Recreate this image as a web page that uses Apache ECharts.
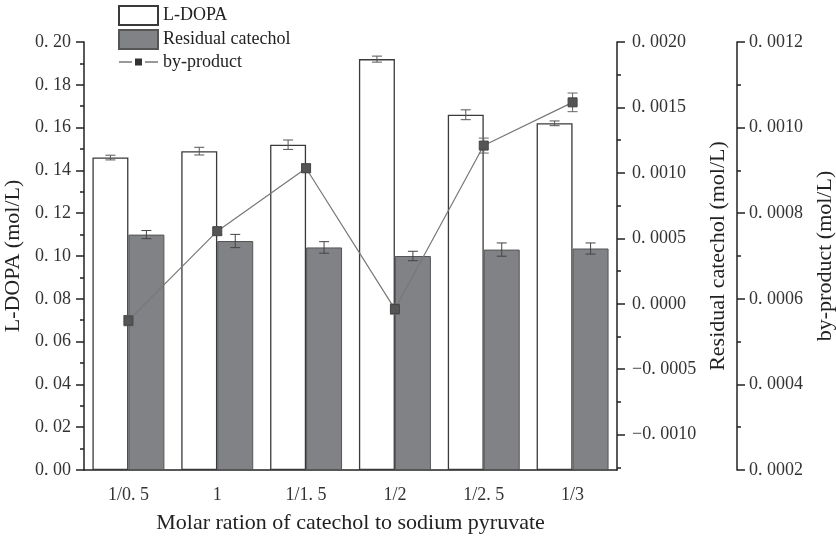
<!DOCTYPE html>
<html>
<head>
<meta charset="utf-8">
<script src="https://cdn.jsdelivr.net/npm/echarts@6/dist/echarts.min.js"></script>
<style>html,body{margin:0;padding:0;background:#fff}#c{width:836px;height:539px}</style>
</head>
<body>
<div id="c"></div>
<script>
const categories = ['1/0.5', '1', '1/1.5', '1/2', '1/2.5', '1/3'];
const ldopa = [0.146, 0.149, 0.152, 0.192, 0.166, 0.162];
const ldopaErr = [0.0011, 0.0018, 0.0022, 0.0014, 0.0023, 0.0011];
const residual = [0.110, 0.107, 0.104, 0.100, 0.103, 0.1035];
const residualErr = [0.0019, 0.0031, 0.0027, 0.0022, 0.0031, 0.0026];
const byproduct = [0.000549, 0.000758, 0.000905, 0.000576, 0.000958, 0.001059];
const byproductErr = [0.000012, 0.000008, 0.00001, 0.000012, 0.0000175, 0.0000218];
const residualAxisTicks = [-0.001, -0.0005, 0, 0.0005, 0.001, 0.0015, 0.002];
const residualAxisMinorTicks = [-0.00125, -0.00075, -0.00025, 0.00025, 0.00075, 0.00125, 0.00175];

const FONT = "'Liberation Serif', 'DejaVu Serif', serif";
const AX = '#222';
const TICK_FS = 18;
const NAME_FS = 22;
function fmt(d) {
  return function (v) {
    return v.toFixed(d).replace('.', '. ').replace('-', '\u2212');
  };
}
function catFmt(v) {
  return String(v).replace('.', '. ');
}
function errRenderer(offsetFrac, color) {
  return function (params, api) {
    const i = api.value(0), v = api.value(1), e = api.value(2);
    const hi = api.coord([i, v + e]);
    const lo = api.coord([i, v - e]);
    const band = api.size([1, 0])[0];
    const x = hi[0] + band * offsetFrac;
    const cap = 5;
    const st = { stroke: color, lineWidth: 1 };
    return {
      type: 'group',
      children: [
        { type: 'line', shape: { x1: x, y1: hi[1], x2: x, y2: lo[1] }, style: st },
        { type: 'line', shape: { x1: x - cap, y1: hi[1], x2: x + cap, y2: hi[1] }, style: st },
        { type: 'line', shape: { x1: x - cap, y1: lo[1], x2: x + cap, y2: lo[1] }, style: st }
      ]
    };
  };
}

const chart = echarts.init(document.getElementById('c'), null, { renderer: 'canvas' });
chart.setOption({
  animation: false,
  backgroundColor: '#fff',
  textStyle: { fontFamily: FONT },
  legend: {
    left: 118, top: 5, orient: 'vertical', padding: 0,
    itemWidth: 39, itemHeight: 19, itemGap: 3,
    textStyle: { fontFamily: FONT, fontSize: 18, color: '#222' },
    data: [
      { name: 'L-DOPA', icon: 'rect' },
      { name: 'Residual catechol', icon: 'rect' },
      {
        name: 'by-product',
        icon: 'path://M0,3 L13,3 L13,4 L0,4 Z M16,0 L23,0 L23,7 L16,7 Z M26,3 L39,3 L39,4 L26,4 Z',
        itemStyle: { color: '#333', borderWidth: 0 }
      }
    ]
  },
  grid: { left: 84, right: 219, top: 42, bottom: 69, containLabel: false, outerBoundsMode: 'none' },
  xAxis: [
    {
      type: 'category', data: categories, position: 'bottom',
      axisLine: { lineStyle: { color: AX, width: 1.5 } },
      axisTick: { alignWithLabel: true, length: 8, lineStyle: { color: AX, width: 1.5 } },
      axisLabel: { fontFamily: FONT, fontSize: TICK_FS, color: '#333', margin: 16, formatter: catFmt },
      name: 'Molar ration of catechol to sodium pyruvate',
      nameLocation: 'middle', nameGap: 42,
      nameTextStyle: { fontFamily: FONT, fontSize: NAME_FS, color: '#222' }
    },
    {
      type: 'category', data: categories, position: 'bottom',
      axisLine: { show: false },
      axisTick: { length: 4, lineStyle: { color: AX, width: 1.5 } },
      axisLabel: { show: false }
    }
  ],
  yAxis: [
    {
      type: 'value', position: 'left', min: 0, max: 0.2, interval: 0.02,
      axisLine: { show: true, lineStyle: { color: AX, width: 1.5 } },
      axisTick: { show: true, length: 8, lineStyle: { color: AX, width: 1.5 } },
      minorTick: { show: true, splitNumber: 2, length: 4, lineStyle: { color: AX, width: 1.5 } },
      splitLine: { show: false },
      axisLabel: { fontFamily: FONT, fontSize: TICK_FS, color: '#333', margin: 13, formatter: fmt(2) },
      name: 'L-DOPA (mol/L)', nameLocation: 'middle', nameRotate: 90, nameGap: 53,
      nameTextStyle: { fontFamily: FONT, fontSize: NAME_FS, color: '#222' }
    },
    {
      type: 'value', position: 'right', min: -0.00127, max: 0.002,
      axisLine: { show: true, lineStyle: { color: AX, width: 1.5 } },
      axisTick: { show: true, length: 8, customValues: residualAxisTicks, lineStyle: { color: AX, width: 1.5 } },
      splitLine: { show: false },
      axisLabel: { fontFamily: FONT, fontSize: TICK_FS, color: '#333', margin: 15, customValues: residualAxisTicks, formatter: fmt(4) },
      name: 'Residual catechol (mol/L)', nameLocation: 'middle', nameRotate: 90, nameGap: 87,
      nameTextStyle: { fontFamily: FONT, fontSize: NAME_FS, color: '#222' }
    },
    {
      type: 'value', position: 'right', min: -0.00127, max: 0.002,
      axisLine: { show: false },
      axisTick: { show: true, length: 4, customValues: residualAxisMinorTicks, lineStyle: { color: AX, width: 1.5 } },
      splitLine: { show: false },
      axisLabel: { show: false }
    },
    {
      type: 'value', position: 'right', offset: 120, min: 0.0002, max: 0.0012, interval: 0.0002,
      axisLine: { show: true, lineStyle: { color: AX, width: 1.5 } },
      axisTick: { show: true, length: 8, lineStyle: { color: AX, width: 1.5 } },
      minorTick: { show: true, splitNumber: 2, length: 4, lineStyle: { color: AX, width: 1.5 } },
      splitLine: { show: false },
      axisLabel: { fontFamily: FONT, fontSize: TICK_FS, color: '#333', margin: 12, formatter: fmt(4) },
      name: 'by-product (mol/L)', nameLocation: 'middle', nameRotate: 90, nameGap: 77,
      nameTextStyle: { fontFamily: FONT, fontSize: NAME_FS, color: '#222' }
    }
  ],
  series: [
    {
      name: 'L-DOPA', type: 'bar', xAxisIndex: 0, yAxisIndex: 0,
      data: ldopa, barWidth: '40.5%', barGap: '0%',
      itemStyle: { color: '#ffffff', borderColor: '#3a3a3a', borderWidth: 1.3 },
      z: 2
    },
    {
      name: 'Residual catechol', type: 'bar', xAxisIndex: 0, yAxisIndex: 0,
      data: residual, barWidth: '40.5%', barGap: '0%',
      itemStyle: { color: '#818286', borderColor: '#555', borderWidth: 1 },
      z: 2
    },
    {
      name: 'by-product', type: 'line', xAxisIndex: 0, yAxisIndex: 3,
      data: byproduct, symbol: 'rect', symbolSize: 9,
      lineStyle: { color: '#777', width: 1.2 },
      itemStyle: { color: '#555', borderColor: '#444', borderWidth: 1 },
      z: 4
    },
    {
      type: 'custom', xAxisIndex: 0, yAxisIndex: 0, z: 5,
      renderItem: errRenderer(-0.2025, '#555'),
      encode: { x: 0, y: 1 },
      data: categories.map((c, i) => [i, ldopa[i], ldopaErr[i]])
    },
    {
      type: 'custom', xAxisIndex: 0, yAxisIndex: 0, z: 5,
      renderItem: errRenderer(0.2025, '#444'),
      encode: { x: 0, y: 1 },
      data: categories.map((c, i) => [i, residual[i], residualErr[i]])
    },
    {
      type: 'custom', xAxisIndex: 0, yAxisIndex: 3, z: 3,
      renderItem: errRenderer(0, '#666'),
      encode: { x: 0, y: 1 },
      data: categories.map((c, i) => [i, byproduct[i], byproductErr[i]])
    }
  ]
});
</script>
</body>
</html>
